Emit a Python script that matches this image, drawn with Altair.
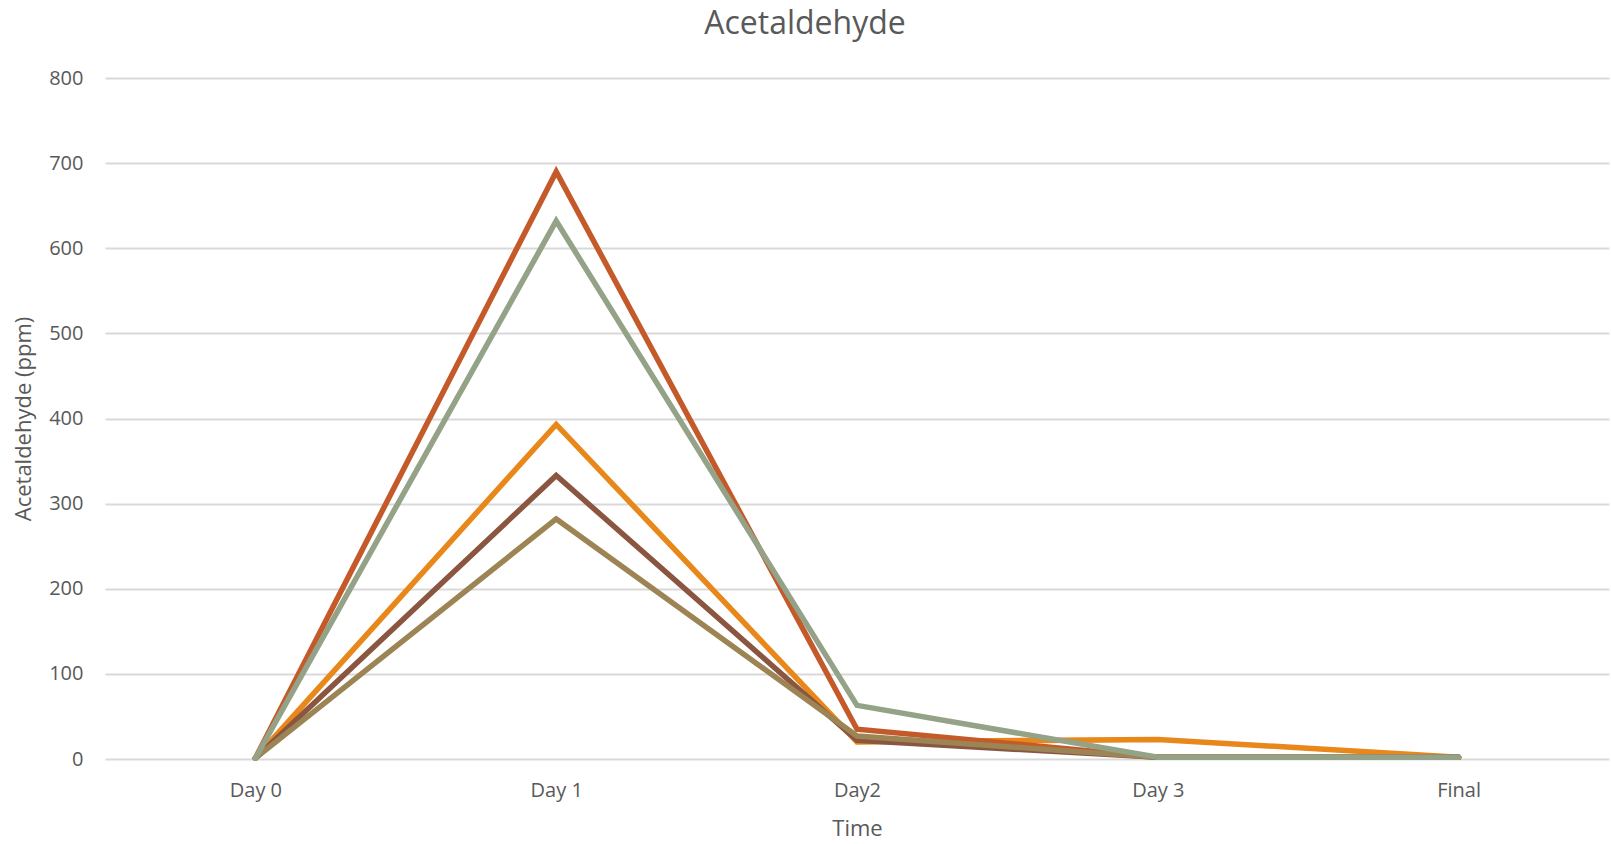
import altair as alt
import pandas as pd

# Sampling points along the fermentation
times = ["Day 0", "Day 1", "Day2", "Day 3", "Final"]

# Acetaldehyde (ppm) per batch
series_names = ["Batch 1", "Batch 2", "Batch 3", "Batch 4", "Batch 5"]
batch_1 = [1, 393, 20, 23, 2]
batch_2 = [1, 690, 35, 2, 2]
batch_3 = [1, 333, 22, 2, 2]
batch_4 = [1, 282, 27, 2, 2]
batch_5 = [1, 632, 63, 2, 2]
colors = ["#E8871A", "#C45A2A", "#8B5640", "#9C8454", "#94A287"]

values = [batch_1, batch_2, batch_3, batch_4, batch_5]
rows = []
for order, (name, vals) in enumerate(zip(series_names, values)):
    for t, v in zip(times, vals):
        rows.append({"Series": name, "Time": t, "ppm": v, "order": order})
df = pd.DataFrame(rows)

font = "Open Sans"
gray = "#595959"

chart = (
    alt.Chart(df)
    .mark_line(strokeWidth=5.5, strokeCap="round", strokeJoin="miter")
    .encode(
        x=alt.X(
            "Time:N",
            sort=times,
            scale=alt.Scale(type="point", padding=0.5),
            axis=alt.Axis(
                title="Time",
                labelAngle=0,
                domain=False,
                ticks=False,
                grid=False,
                labelPadding=21,
                titlePadding=18,
            ),
        ),
        y=alt.Y(
            "ppm:Q",
            scale=alt.Scale(domain=[0, 800], nice=False),
            axis=alt.Axis(
                title="Acetaldehyde (ppm)",
                values=list(range(0, 801, 100)),
                domain=False,
                ticks=False,
                gridColor="#D9D9D9",
                gridWidth=2,
                labelPadding=22,
                titlePadding=13,
            ),
        ),
        color=alt.Color(
            "Series:N",
            sort=series_names,
            scale=alt.Scale(domain=series_names, range=colors),
            legend=None,
        ),
        order=alt.Order("order:Q"),
        detail="Series:N",
    )
    .properties(
        width=1504,
        height=681,
        padding={"left": 105, "top": 78, "right": 2, "bottom": 85},
        autosize=alt.AutoSizeParams(type="none"),
        title=alt.TitleParams(
            "Acetaldehyde",
            fontSize=32,
            font=font,
            fontWeight="normal",
            color=gray,
            anchor="middle",
            dx=-52,
            offset=27,
        ),
    )
    .configure_axis(
        labelFont=font,
        titleFont=font,
        labelFontSize=20,
        titleFontSize=22,
        labelColor=gray,
        titleColor=gray,
        titleFontWeight="normal",
    )
    .configure_view(stroke=None)
)

chart.save("out.html", embed_options={"renderer": "svg", "actions": False})
